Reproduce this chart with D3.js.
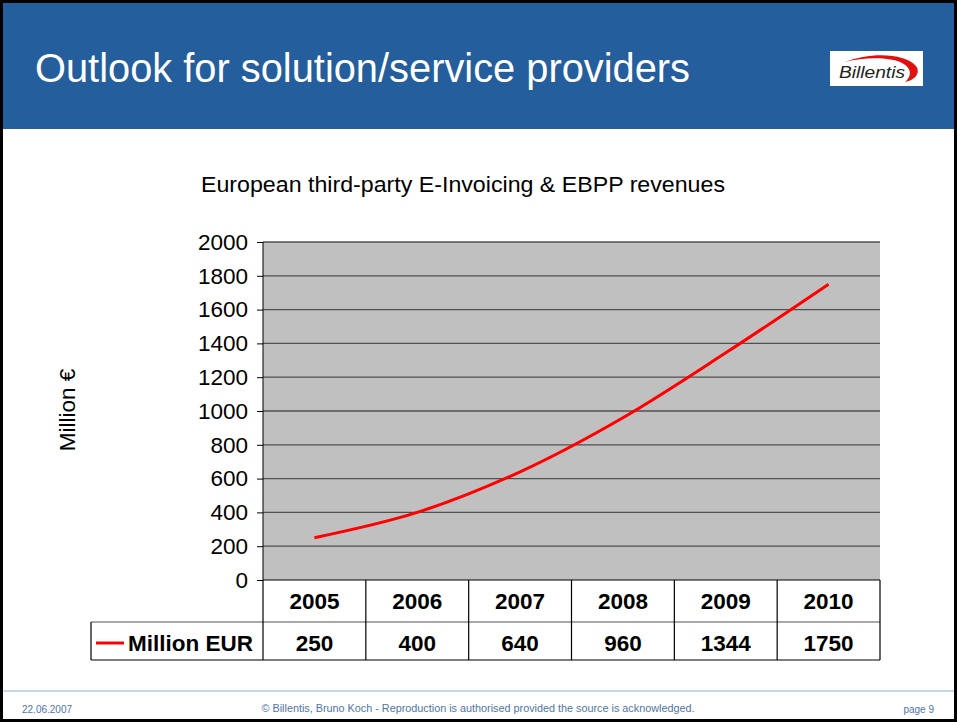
<!DOCTYPE html>
<html>
<head>
<meta charset="utf-8">
<script src="https://cdn.jsdelivr.net/npm/d3@7"></script>
<style>
html,body{margin:0;padding:0;background:#fff;}
svg{display:block;font-family:Arial,"Liberation Sans",sans-serif;}
</style>
</head>
<body>
<svg id="c" width="957" height="722"></svg>
<script>
const years = ["2005","2006","2007","2008","2009","2010"];
const revenues = [250, 400, 640, 960, 1344, 1750];
const yTicks = [0,200,400,600,800,1000,1200,1400,1600,1800,2000];
const seriesName = "Million EUR";
const slideTitle = "Outlook for solution/service providers";
const chartTitle = "European third-party E-Invoicing & EBPP revenues";
const yLabel = "Million €";
const footerLeft = "22.06.2007";
const footerCenter = "© Billentis, Bruno Koch  -  Reproduction is authorised provided the source is acknowledged.";
const footerRight = "page 9";

(function(){
const svg = d3.select("#c");
const W = 957, H = 722;
const FS = 22.5;

svg.append("rect").attr("x",0).attr("y",0).attr("width",W).attr("height",H).attr("fill","#fff");
// header band
svg.append("rect").attr("x",0).attr("y",0).attr("width",W).attr("height",129).attr("fill","#245E9C");
svg.append("text").attr("x",35).attr("y",82).attr("fill","#fff")
  .attr("font-size",40).attr("textLength",655).attr("lengthAdjust","spacingAndGlyphs").text(slideTitle);

// logo
const logo = svg.append("g");
logo.append("rect").attr("x",830).attr("y",51).attr("width",93).attr("height",35).attr("fill","#fff");
logo.append("path").attr("d","M845,62 C870,52 905,53 916,66 C921,73 915,80 905,82 C912,76 912,68 902,63 C890,57 865,57 845,62 Z").attr("fill","#e01010");
logo.append("text").attr("x",839).attr("y",78).attr("font-size",16).attr("font-style","italic")
  .attr("fill","#222").attr("textLength",66).attr("lengthAdjust","spacingAndGlyphs").text("Billentis");

// chart title
svg.append("text").attr("x",463).attr("y",192).attr("text-anchor","middle").attr("font-size",FS)
  .attr("fill","#000").attr("textLength",524).attr("lengthAdjust","spacingAndGlyphs").text(chartTitle);

// plot
const pL = 263, pR = 880, pT = 242, pB = 580;
const x = d3.scaleBand().domain(years).range([pL,pR]).padding(0);
const y = d3.scaleLinear().domain([0,2000]).range([pB,pT]);

svg.append("rect").attr("x",pL).attr("y",pT).attr("width",pR-pL).attr("height",pB-pT).attr("fill","#C0C0C0");
svg.append("g").selectAll("line").data(yTicks.filter(d=>d>0)).join("line")
  .attr("x1",pL).attr("x2",pR).attr("y1",d=>y(d)).attr("y2",d=>y(d))
  .attr("stroke","#505050").attr("stroke-width",1.3);

const yAxis = svg.append("g").attr("transform",`translate(${pL},0)`)
  .call(d3.axisLeft(y).tickValues(yTicks).tickSize(6).tickPadding(9).tickFormat(d3.format("d")));
yAxis.select(".domain").attr("stroke","#000").attr("d",`M0,${pB}V${pT}`);
yAxis.selectAll(".tick line").attr("stroke","#000");
yAxis.selectAll(".tick text").attr("font-size",FS).attr("fill","#000").attr("font-family","Arial,'Liberation Sans',sans-serif");

// y label
svg.append("text").attr("transform","translate(75,410) rotate(-90)").attr("text-anchor","middle")
  .attr("font-size",FS).attr("fill","#000").text(yLabel);

// line
const line = d3.line().x((d,i)=>x(years[i])+x.bandwidth()/2).y(d=>y(d)).curve(d3.curveCatmullRom.alpha(0.5));
svg.append("path").datum(revenues).attr("d",line).attr("fill","none").attr("stroke","#FF0000").attr("stroke-width",3);

// data table
const row1 = 622, row2 = 660, legL = 91;
const tb = svg.append("g").attr("stroke","#000").attr("stroke-width",1.2);
tb.append("line").attr("x1",pL).attr("x2",pR).attr("y1",pB).attr("y2",pB);
tb.append("line").attr("x1",legL).attr("x2",pR).attr("y1",row1).attr("y2",row1).attr("stroke","#555");
tb.append("line").attr("x1",legL).attr("x2",pR).attr("y1",row2).attr("y2",row2);
tb.append("line").attr("x1",legL).attr("x2",legL).attr("y1",row1).attr("y2",row2);
tb.selectAll(".v").data(years.concat(["end"])).join("line")
  .attr("x1",(d,i)=>pL+i*x.bandwidth()).attr("x2",(d,i)=>pL+i*x.bandwidth())
  .attr("y1",pB).attr("y2",row2);

svg.append("g").selectAll("text").data(years).join("text")
  .attr("x",d=>x(d)+x.bandwidth()/2).attr("y",609).attr("text-anchor","middle")
  .attr("font-size",FS).attr("font-weight","bold").attr("fill","#000").text(d=>d);
svg.append("g").selectAll("text").data(revenues).join("text")
  .attr("x",(d,i)=>x(years[i])+x.bandwidth()/2).attr("y",651).attr("text-anchor","middle")
  .attr("font-size",FS).attr("font-weight","bold").attr("fill","#000").text(d=>d);
svg.append("line").attr("x1",96).attr("x2",124).attr("y1",643).attr("y2",643).attr("stroke","#FF0000").attr("stroke-width",3);
svg.append("text").attr("x",128).attr("y",651).attr("font-size",FS).attr("font-weight","bold").attr("fill","#000").text(seriesName);

// footer
svg.append("line").attr("x1",0).attr("x2",W).attr("y1",691).attr("y2",691).attr("stroke","#8FB0D6").attr("stroke-width",1.2);
const fc = "#4F74A8";
svg.append("text").attr("x",22).attr("y",713).attr("font-size",10).attr("fill",fc).text(footerLeft);
svg.append("text").attr("x",478).attr("y",712).attr("text-anchor","middle").attr("font-size",10.5).attr("fill",fc)
  .attr("textLength",433).attr("lengthAdjust","spacingAndGlyphs").text(footerCenter);
svg.append("text").attr("x",934).attr("y",713).attr("text-anchor","end").attr("font-size",10).attr("fill",fc).text(footerRight);

// outer frame
svg.append("rect").attr("x",1.5).attr("y",1.5).attr("width",W-3).attr("height",H-3).attr("fill","none").attr("stroke","#000").attr("stroke-width",3);
})();
</script>
</body>
</html>
